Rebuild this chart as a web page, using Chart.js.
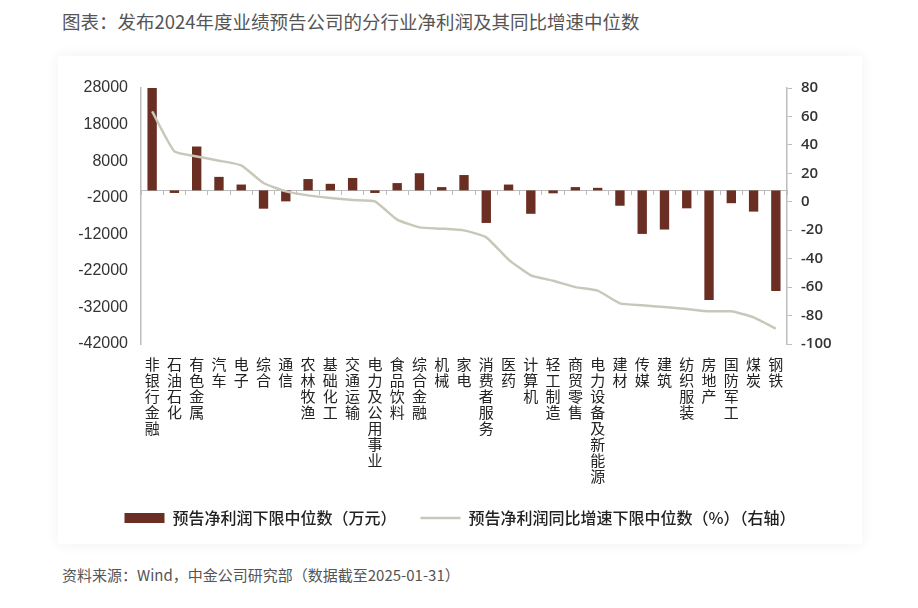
<!DOCTYPE html>
<html>
<head>
<meta charset="utf-8">
<script src="https://cdn.jsdelivr.net/npm/chart.js@4"></script>
<style>
  body { margin: 0; background: #fff; width: 918px; height: 608px; position: relative; overflow: hidden; font-family: "Noto Sans CJK SC", sans-serif; }
  #title { position: absolute; left: 62px; top: 8px; font-size: 18.5px; color: #555; }
  #card { position: absolute; left: 58px; top: 56px; width: 804px; height: 488px; box-shadow: 0 0 14px rgba(0,0,0,0.06); }
  #wrap { position: absolute; left: 30px; top: 60px; width: 860px; height: 490px; }
  #source { position: absolute; left: 62px; top: 564px; font-size: 15px; color: #555; }
</style>
</head>
<body>
<div id="title">图表：发布2024年度业绩预告公司的分行业净利润及其同比增速中位数</div>
<div id="card"></div>
<div id="wrap"><canvas id="chart"></canvas></div>
<div id="source">资料来源：Wind，中金公司研究部（数据截至2025-01-31）</div>
<script>
// Industries, sorted by YoY growth median
const industries = ['非银行金融', '石油石化', '有色金属', '汽车', '电子', '综合', '通信', '农林牧渔', '基础化工', '交通运输',
  '电力及公用事业', '食品饮料', '综合金融', '机械', '家电', '消费者服务', '医药', '计算机', '轻工制造', '商贸零售',
  '电力设备及新能源', '建材', '传媒', '建筑', '纺织服装', '房地产', '国防军工', '煤炭', '钢铁'];

// 预告净利润下限中位数（万元）
const profitMedian = [28000, -700, 12000, 3700, 1600, -5000, -3000, 3100, 1800, 3400,
  -700, 2000, 4700, 900, 4200, -8900, 1600, -6400, -800, 900,
  700, -4200, -11900, -10700, -4900, -30000, -3500, -5800, -27500];

// 预告净利润同比增速下限中位数（%）
const growthMedian = [63.5, 35.4, 31.9, 28.9, 25.6, 13.2, 7.3, 4.5, 2.7, 1.2,
  0.3, -12.6, -18, -18.9, -20.1, -25, -40.7, -51.7, -55.5, -60,
  -62.5, -71.4, -72.8, -74, -75.4, -77, -77, -81.3, -89.2];

const leftTicks = [28000, 18000, 8000, -2000, -12000, -22000, -32000, -42000];
const rightTicks = [80, 60, 40, 20, 0, -20, -40, -60, -80, -100];

const barColor = '#6b2e22';
const lineColor = '#c8c8ba';
const axisColor = '#bdbdbd';

const ctx = document.getElementById('chart').getContext('2d');
new Chart(ctx, {
  data: {
    labels: industries,
    datasets: [{
      type: 'bar',
      label: '预告净利润下限中位数（万元）',
      data: profitMedian,
      backgroundColor: barColor,
      borderWidth: 0,
      barPercentage: 0.42,
      categoryPercentage: 1,
      pointStyle: 'rect',
      yAxisID: 'y',
      order: 1
    }, {
      type: 'line',
      label: '预告净利润同比增速下限中位数（%）（右轴）',
      data: growthMedian,
      borderColor: lineColor,
      backgroundColor: lineColor,
      borderWidth: 2.5,
      pointRadius: 0,
      pointStyle: 'line',
      tension: 0.15,
      yAxisID: 'y1',
      order: 0
    }]
  },
  options: {
    responsive: true,
    maintainAspectRatio: false,
    animation: false,
    layout: { padding: { top: 28, bottom: 14 } },
    scales: {
      x: {
        type: 'category',
        offset: true,
        grid: { display: false, drawTicks: false },
        border: { display: false },
        ticks: {
          autoSkip: false,
          maxRotation: 0,
          minRotation: 0,
          padding: 12,
          color: '#222',
          font: { family: 'Noto Sans CJK SC', size: 15, lineHeight: 1.07 },
          callback: function(v, i) { return industries[i].split(''); }
        },
        afterFit: function(scale) { scale.height = 142; }
      },
      // zero line with small category ticks
      x2: {
        type: 'category',
        position: { y: 0 },
        offset: true,
        grid: { offset: true, drawOnChartArea: false, drawTicks: true, tickLength: 4, color: axisColor },
        border: { display: true, color: axisColor, width: 1 },
        ticks: { display: false }
      },
      y: {
        position: 'left',
        min: -42000,
        max: 28000,
        grid: { display: false, drawTicks: false },
        border: { display: true, color: axisColor, width: 1.5 },
        afterBuildTicks: function(scale) { scale.ticks = leftTicks.map(v => ({ value: v })); },
        ticks: {
          padding: 13,
          color: '#333',
          font: { family: 'Liberation Sans', size: 16 },
          callback: v => String(v)
        },
        afterFit: function(scale) { scale.width = 111; }
      },
      y1: {
        position: 'right',
        min: -100,
        max: 80,
        grid: { drawOnChartArea: false, drawTicks: true, tickLength: 5, color: axisColor },
        border: { display: true, color: axisColor, width: 1.5 },
        afterBuildTicks: function(scale) { scale.ticks = rightTicks.map(v => ({ value: v })); },
        ticks: {
          padding: 9,
          color: '#333',
          font: { family: 'Open Sans', size: 15, weight: '600' },
          callback: v => String(v)
        },
        afterFit: function(scale) { scale.width = 103; }
      }
    },
    plugins: {
      legend: {
        position: 'bottom',
        labels: {
          usePointStyle: true,
          pointStyleWidth: 40,
          boxHeight: 10,
          padding: 24,
          color: '#222',
          font: { family: 'Noto Sans CJK SC', size: 16, weight: '500' },
          sort: (a, b) => a.datasetIndex - b.datasetIndex
        }
      },
      tooltip: { enabled: false }
    }
  }
});
</script>
</body>
</html>
